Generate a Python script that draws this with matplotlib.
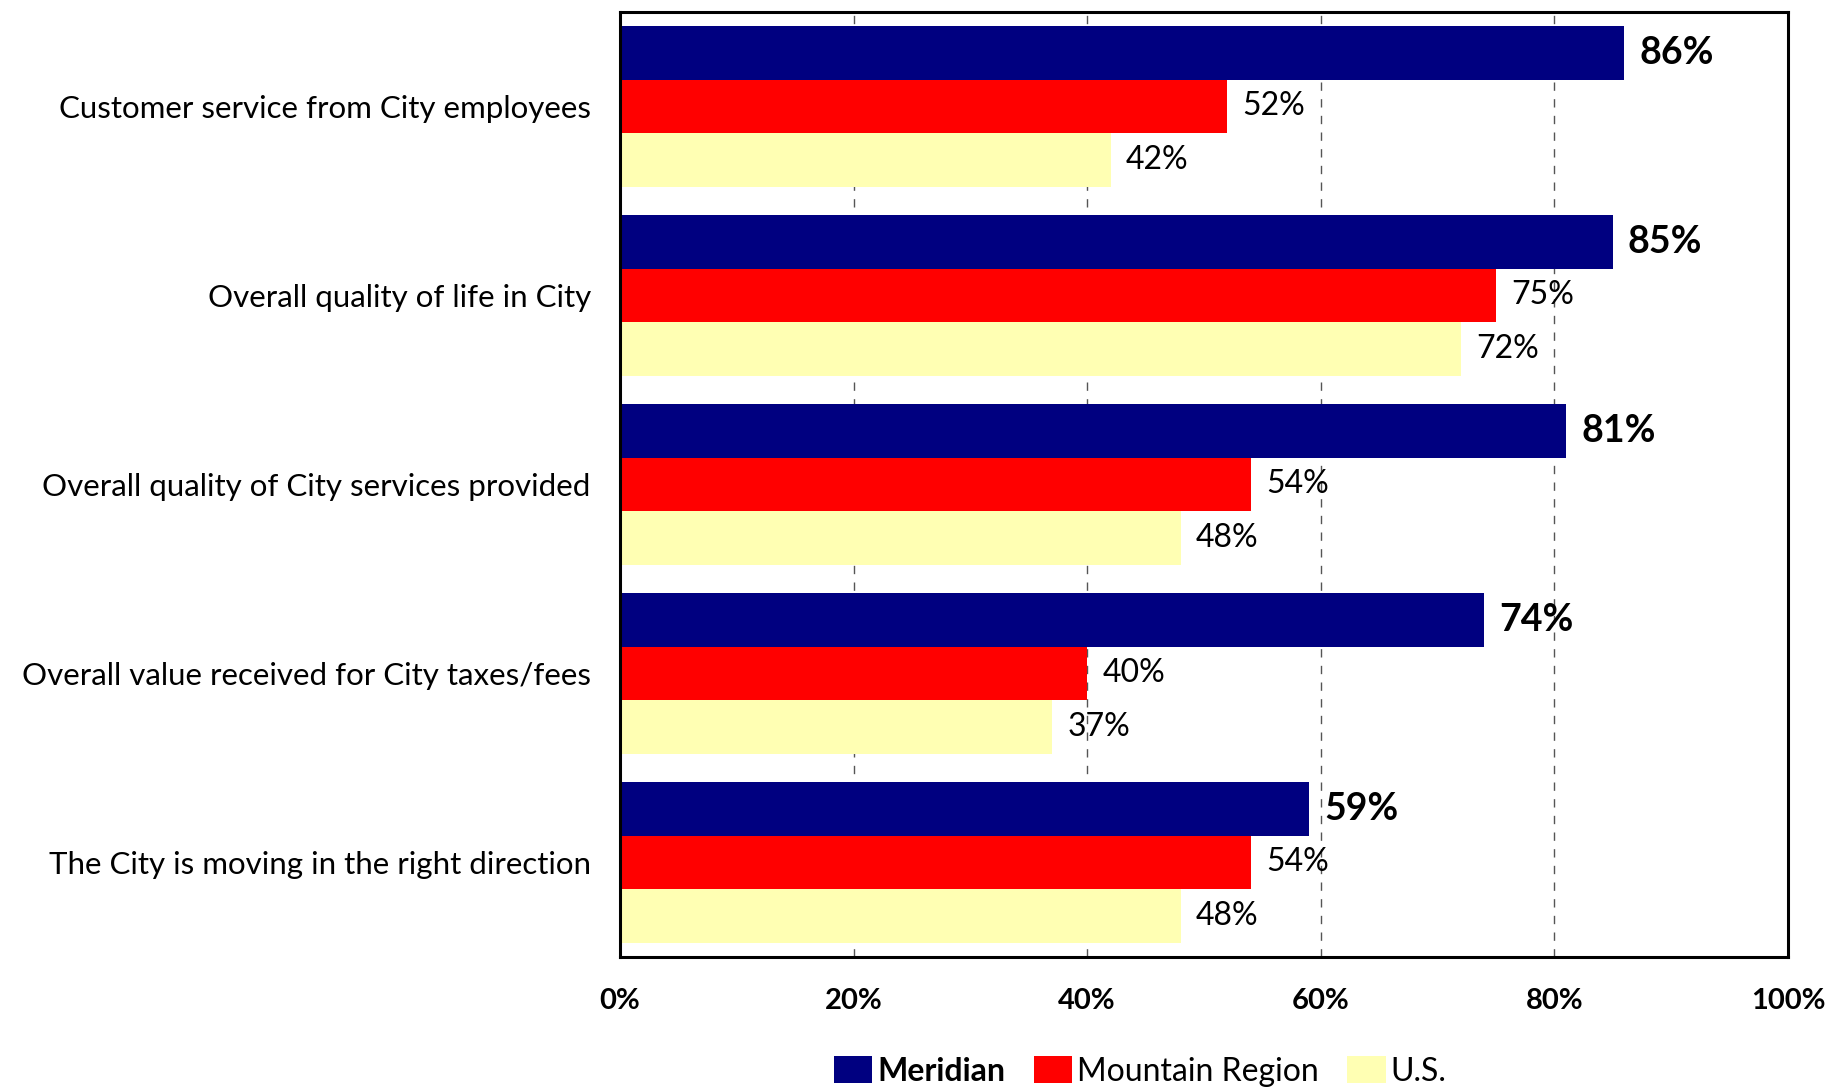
import numpy as np
import matplotlib.pyplot as plt

categories = ["Customer service from City employees",
              "Overall quality of life in City",
              "Overall quality of City services provided",
              "Overall value received for City taxes/fees",
              "The City is moving in the right direction"]
meridian = [86, 85, 81, 74, 59]
mountain = [52, 75, 54, 40, 54]
us = [42, 72, 48, 37, 48]
series_names = ["Meridian", "Mountain Region", "U.S."]
colors = ["#000080", "#FF0000", "#FFFFB3"]

plt.rcParams['font.family'] = ['Lato', 'DejaVu Sans']

fig = plt.figure(figsize=(18.48, 10.87), dpi=100)
ax = fig.add_axes([0.3355, 0.1196, 0.6320, 0.8694])

y = np.arange(len(categories))
h = 0.283
series = [meridian, mountain, us]
handles = []
for i, (vals, col, name) in enumerate(zip(series, colors, series_names)):
    pos = y - h + i * h
    b = ax.barh(pos, vals, height=h, color=col, label=name, zorder=2)
    handles.append(b)
    for p, v in zip(pos, vals):
        if i == 0:
            ax.text(v + 1.3, p, f"{v}%", va='center', ha='left', fontsize=27, fontweight='bold')
        else:
            ax.text(v + 1.3, p, f"{v}%", va='center', ha='left', fontsize=23)

ax.set_xlim(0, 100)
ax.set_ylim(len(categories) - 0.5, -0.5)
ax.set_xticks([0, 20, 40, 60, 80, 100])
ax.set_xticklabels([f"{t}%" for t in range(0, 101, 20)], fontsize=21, fontweight='bold')
ax.set_yticks(y)
ax.set_yticklabels(categories, fontsize=22.5)
ax.tick_params(axis='y', length=0, pad=21)
ax.tick_params(axis='x', length=0, pad=22)
ax.xaxis.grid(True, linestyle=(0, (6, 6)), color='#555555', linewidth=1, zorder=0)
ax.set_axisbelow(True)
for s in ax.spines.values():
    s.set_linewidth(2.2)
    s.set_color('black')

leg = fig.legend(handles=handles, labels=series_names, loc='lower center',
                 bbox_to_anchor=(0.617, -0.026), ncol=3, frameon=False, fontsize=23,
                 handlelength=1.2, handleheight=0.9, handletextpad=0.15, columnspacing=0.9)
leg.get_texts()[0].set_fontweight('bold')

fig.savefig("out.png", dpi=100)
